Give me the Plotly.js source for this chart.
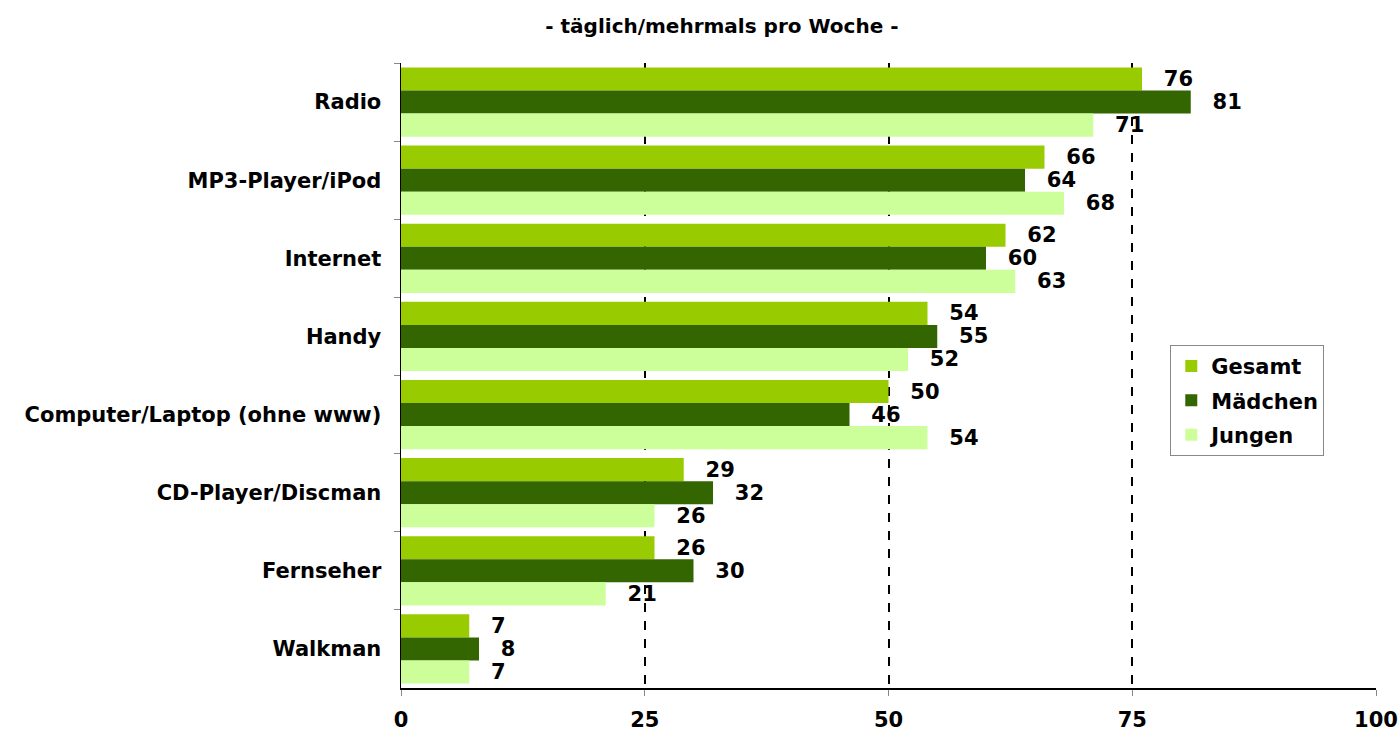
<!DOCTYPE html>
<html>
<head>
<meta charset="utf-8">
<script src="https://cdn.plot.ly/plotly-3.0.1.min.js"></script>
<style>
  html, body { margin: 0; padding: 0; background: #fff; }
  #chart { width: 1399px; height: 733px; }
</style>
</head>
<body>
<div id="chart"></div>
<script>
// Mediennutzung - täglich/mehrmals pro Woche (Prozent)
const categories = [
    "Radio",
    "MP3-Player/iPod",
    "Internet",
    "Handy",
    "Computer/Laptop (ohne www)",
    "CD-Player/Discman",
    "Fernseher",
    "Walkman"
];
const gesamt = [76, 66, 62, 54, 50, 29, 26, 7];
const maedchen = [81, 64, 60, 55, 46, 32, 30, 8];
const jungen = [71, 68, 63, 52, 54, 26, 21, 7];
const xTicks = [0, 25, 50, 75, 100];

// the reference text is wide, DejaVu gets closest to it
const FONT = "DejaVu Sans, Verdana, sans-serif";

function barTrace(name, values, color) {
    return {
        name: name,
        legendgroup: name,
        type: "bar",
        orientation: "h",
        x: values,
        y: categories,
        marker: { color: color },
        text: values.map(String),
        texttemplate: "\u00a0\u00a0\u2009%{text}",
        textposition: "outside",
        constraintext: "none",
        cliponaxis: false,
        textfont: { family: FONT, size: 21, color: "#000", weight: "bold" },
        hoverinfo: "x+y"
    };
}

const data = [
    barTrace("Gesamt", gesamt, "#99CC00"),
    barTrace("Mädchen", maedchen, "#336600"),
    barTrace("Jungen", jungen, "#CCFF99")
];

const layout = {
    width: 1399,
    height: 733,
    paper_bgcolor: "#fff",
    plot_bgcolor: "#fff",
    font: { family: FONT, size: 21, color: "#000", weight: "bold" },
    margin: { l: 401, r: 23, t: 63, b: 45, pad: 0 },
    barmode: "group",
    bargap: 0.115,
    bargroupgap: 0,
    showlegend: true,
    title: {
        text: "- täglich/mehrmals pro Woche -",
        font: { family: FONT, size: 20, color: "#000", weight: "bold" },
        x: 0.516,
        xanchor: "center",
        y: 0.965,
        yanchor: "middle"
    },
    xaxis: {
        range: [0, 100],
        tickvals: xTicks,
        ticktext: xTicks.map(String),
        showgrid: true,
        gridcolor: "#000",
        gridwidth: 2,
        griddash: "dash",
        zeroline: false,
        showline: true,
        linecolor: "#000",
        linewidth: 1.5,
        ticks: "outside",
        ticklen: 6,
        tickcolor: "#888",
        ticklabelstandoff: 6,
        tickfont: { family: FONT, size: 21, color: "#000", weight: "bold" },
        fixedrange: true
    },
    yaxis: {
        autorange: "reversed",
        type: "category",
        showgrid: false,
        zeroline: false,
        showline: true,
        linecolor: "#000",
        linewidth: 1.5,
        ticks: "outside",
        tickson: "boundaries",
        ticklen: 6,
        tickcolor: "#888",
        ticklabelstandoff: 14,
        tickfont: { family: FONT, size: 21, color: "#000", weight: "bold" },
        fixedrange: true
    },
    legend: {
        x: 0.789,
        y: 0.549,
        xanchor: "left",
        yanchor: "top",
        traceorder: "grouped",
        tracegroupgap: 4,
        bgcolor: "#fff",
        bordercolor: "#888",
        borderwidth: 1,
        itemwidth: 30,
        entrywidth: 172,
        entrywidthmode: "pixels",
        font: { family: FONT, size: 21, color: "#000", weight: "bold" }
    }
};

const config = { staticPlot: true, displayModeBar: false };

Plotly.newPlot("chart", data, layout, config);
</script>
</body>
</html>
